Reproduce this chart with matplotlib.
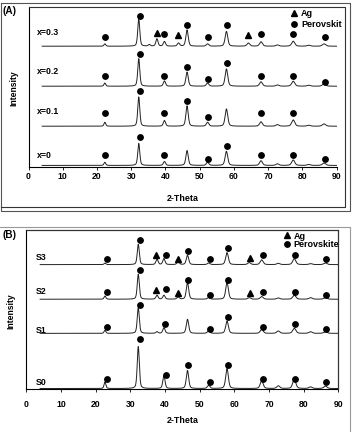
import numpy as np
import matplotlib
matplotlib.use('Agg')
from matplotlib import pyplot as plt
from matplotlib.lines import Line2D

plt.rcParams['font.family'] = ['Liberation Sans', 'DejaVu Sans']
plt.rcParams['font.weight'] = 'bold'

# ---- data panel A ----
pos_a = [22.3, 32.2, 35.3, 37.5, 39.7, 43.8, 46.3, 52.3, 57.8, 64.2, 67.9, 72.7, 77.3, 81.8, 86.3]
h_a = {
    'x=0':   [2.0, 14.0, 0.0, 0.0, 2.5, 0.0, 9.5, 2.0, 9.0, 0.0, 3.0, 1.0, 3.5, 0.6, 1.5],
    'x=0.1': [2.5, 18.7, 0.0, 0.0, 3.6, 0.0, 13.0, 2.5, 11.0, 0.0, 2.8, 1.0, 4.0, 0.6, 1.5],
    'x=0.2': [2.0, 17.6, 0.0, 0.0, 3.4, 0.0, 9.0, 2.0, 11.0, 0.0, 2.8, 0.8, 3.2, 0.6, 1.5],
    'x=0.3': [1.5, 17.4, 1.0, 4.7, 3.0, 2.0, 10.4, 1.5, 9.4, 2.0, 2.8, 0.8, 3.2, 0.6, 1.5],
}
base_a = [1.0, 26.0, 51.5, 77.0]
label_y_a = [7.6, 35.2, 61.0, 85.8]
circ_a = [
    ([22.3, 32.5, 39.7, 52.5, 58, 68, 77.3, 86.5], [7.4, 18.9, 7.4, 5.3, 13.4, 7.4, 7.4, 5.3]),
    ([22.3, 32.5, 39.7, 46.3, 52.5, 68, 77.3], [34.2, 48.4, 34.2, 42.0, 32.0, 34.2, 34.2]),
    ([22.3, 32.5, 39.7, 46.3, 52.5, 58, 68, 77.3, 86.5], [58, 72, 58, 63.9, 56, 66, 58, 58, 54]),
    ([22.3, 32.5, 39.7, 46.3, 52.5, 58, 68, 77.3, 86.5], [83, 96, 84.7, 90.6, 83, 90.6, 84.7, 84.7, 83]),
]
tri_a = [
    ([], []), ([], []), ([], []),
    ([37.5, 43.7, 64.2], [85.5, 83.9, 83.9]),
]

# ---- data panel B ----
pos_b = [22.7, 32.3, 37.7, 39.7, 43.8, 46.5, 52.6, 57.9, 64.3, 67.9, 72.7, 77.3, 82.0, 86.3]
h_b = {
    'S0': [4.2, 26.6, 0.0, 8.0, 0.0, 11.4, 2.0, 12.7, 0.0, 4.9, 1.7, 5.9, 1.0, 1.5],
    'S1': [1.9, 16.2, 1.0, 3.6, 0.0, 8.9, 1.5, 7.8, 0.0, 2.5, 1.5, 3.2, 1.0, 1.0],
    'S2': [2.0, 15.8, 2.5, 2.5, 1.3, 10.5, 1.0, 10.5, 1.0, 1.7, 0.8, 2.5, 1.0, 1.0],
    'S3': [1.0, 12.9, 3.4, 3.8, 2.0, 5.9, 1.0, 7.6, 1.3, 3.0, 0.8, 3.8, 0.6, 1.0],
}
base_b = [0.3, 35.2, 56.8, 78.7]
label_y_b = [4.4, 37.3, 61.8, 83.3]
circ_b = [
    ([23.2, 32.8, 40.3, 46.7, 53, 58.2, 68.4, 77.5, 86.5], [6.1, 31.4, 9.1, 15, 4.6, 15, 6.1, 6.1, 4.6]),
    ([23.2, 32.8, 40, 53, 58.2, 68.4, 77.5, 86.5], [39.4, 53.2, 40.9, 37.8, 45.8, 39.4, 40.9, 37.8]),
    ([23.2, 32.8, 40.3, 46.7, 53, 58.2, 68.4, 77.5, 86.5], [61.4, 75.1, 63.5, 68.8, 59.7, 68.8, 61.4, 61.4, 59.7]),
    ([23.2, 32.8, 40.3, 46.7, 53, 58.2, 68.4, 77.5, 86.5], [82.5, 94.1, 84.6, 87.1, 82.5, 89.2, 84.6, 84.6, 82.5]),
]
tri_b = [
    ([], []), ([], []),
    ([37.3, 43.8, 64.5], [62.7, 60.6, 60.6]),
    ([37.3, 43.8, 64.5], [84.8, 82.5, 83.1]),
]

xticks = list(range(0, 100, 10))
tt = np.arange(4, 90.01, 0.04)


def pattern(pos, heights):
    y = np.zeros_like(tt)
    for p, h in zip(pos, heights):
        g = 0.22 + 0.004 * p
        d = (tt - p) / g
        y += h * (0.4 / (1 + d ** 2) + 0.6 * np.exp(-0.693 * d ** 2))
    return y


W, H = 353, 432
fig = plt.figure(figsize=(W / 100, H / 100), dpi=100)


def fx(px):
    return px / W


def fy(py):
    return 1 - py / H


def fline(xs, ys, color='black', lw=0.8):
    fig.add_artist(Line2D([fx(x) for x in xs], [fy(y) for y in ys],
                          transform=fig.transFigure, color=color, lw=lw))


def panel(ax, pos, hdict, bases, label_y, circs, tris, leg_lab, leg_xy, lspace):
    for (name, hs), b, ly, (cx, cy), (tx, ty) in zip(hdict.items(), bases, label_y, circs, tris):
        ax.plot(tt, b + pattern(pos, hs), color='#222222', lw=0.7)
        ax.text(2.6, ly, name, fontsize=6.3, fontweight='bold', va='center', ha='left')
        ax.plot(cx, cy, 'o', color='black', ms=3.9, ls='none')
        ax.plot(tx, ty, '^', color='black', ms=4.8, ls='none')
    ax.set_xlim(0, 90)
    ax.set_xticks(xticks)
    ax.set_yticks([])
    ax.tick_params(axis='x', labelsize=6.2, length=2, width=0.6)
    for lab in ax.get_xticklabels():
        lab.set_fontweight('bold')
    h1 = Line2D([], [], marker='^', color='black', ls='none', ms=4.8)
    h2 = Line2D([], [], marker='o', color='black', ls='none', ms=3.9)
    ax.legend([h1, h2], ['Ag', leg_lab], loc='upper left', bbox_to_anchor=leg_xy,
              frameon=False, borderpad=0, borderaxespad=0, handlelength=0.8,
              handletextpad=0.35, labelspacing=lspace,
              prop={'size': 6.5, 'weight': 'bold'})


# panel A
axA = fig.add_axes([fx(28.5), fy(167), (336.7 - 28.5) / W, 160 / H])
axA.set_ylim(0, 102)
panel(axA, pos_a, h_a, base_a, label_y_a, circ_a, tri_a, 'Perovskit', (0.851, 0.985), 0.2)
axA.spines['top'].set_visible(False)
axA.spines['right'].set_visible(False)
axA.tick_params(axis='x', pad=1.5)
axA.set_xlabel('2-Theta', fontsize=6.4, fontweight='bold', labelpad=9.5)

# panel B
axB = fig.add_axes([fx(26.3), fy(389), 312 / W, 159 / H])
axB.set_ylim(0, 100.6)
panel(axB, pos_b, h_b, base_b, label_y_b, circ_b, tri_b, 'Perovskite', (0.824, 0.99), -0.05)
axB.tick_params(axis='x', pad=6)
axB.set_xlabel('2-Theta', fontsize=6.4, fontweight='bold', labelpad=5)
for sp in axB.spines.values():
    sp.set_linewidth(0.8)

# y labels and panel letters
fig.text(fx(14), fy(88), 'Intensity', rotation=90, ha='center', va='center',
         fontsize=6.2, fontweight='bold')
fig.text(fx(11), fy(311), 'Intensity', rotation=90, ha='center', va='center',
         fontsize=6.2, fontweight='bold')
fig.text(fx(2.5), fy(11), '(A)', ha='left', va='center', fontsize=7.2, fontweight='bold')
fig.text(fx(2.5), fy(235), '(B)', ha='left', va='center', fontsize=7.2, fontweight='bold')

# frames
fline([0.7, 350, 350, 0.7, 0.7], [2.7, 2.7, 211, 211, 2.7], color='#555555')
fline([28.5, 345, 345, 0.7], [7, 7, 207, 207], color='#333333')
fline([0, 350, 350], [227, 227, 432], color='#999999')
fline([26.3, 338.3, 338.3], [230, 230, 389], color='#333333')

fig.savefig('out.png', dpi=100)
